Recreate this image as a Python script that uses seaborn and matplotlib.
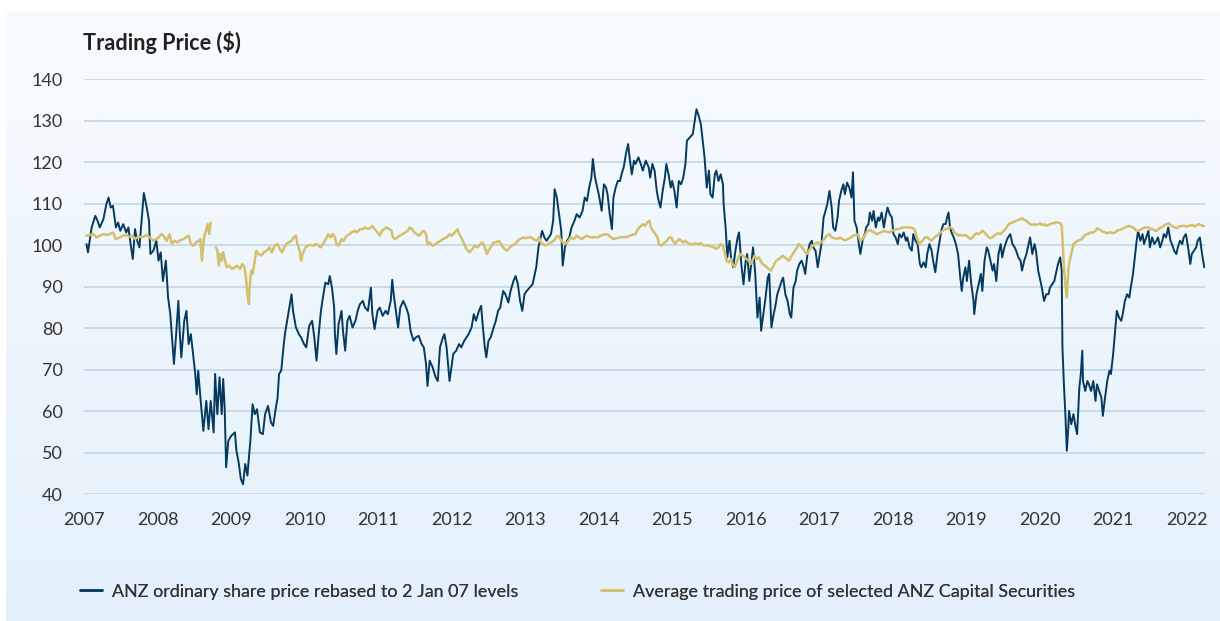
import numpy as np
import pandas as pd
import matplotlib
matplotlib.use("Agg")
import matplotlib.pyplot as plt
from matplotlib.colors import LinearSegmentedColormap
from matplotlib.lines import Line2D
import seaborn as sns

sns.set_style("white")
plt.rcParams["font.family"] = ["Lato", "DejaVu Sans"]

# ---------------- DATA ----------------
# ANZ ordinary share price, rebased to 2 Jan 07 = 100
anz_year = [
    2007.03, 2007.05, 2007.10, 2007.15, 2007.18, 2007.21, 2007.26, 2007.30, 2007.33, 2007.36,
    2007.39, 2007.43, 2007.46, 2007.49, 2007.53, 2007.57, 2007.60, 2007.63, 2007.66, 2007.69,
    2007.72, 2007.75, 2007.78, 2007.81, 2007.85, 2007.88, 2007.90, 2007.94, 2007.98,
    2008.01, 2008.04, 2008.07, 2008.11, 2008.14, 2008.17, 2008.19, 2008.22, 2008.25, 2008.28,
    2008.30, 2008.32, 2008.36, 2008.39, 2008.42, 2008.45, 2008.48, 2008.51, 2008.53, 2008.55,
    2008.58, 2008.62, 2008.66, 2008.69, 2008.72, 2008.76, 2008.78, 2008.81, 2008.84, 2008.87,
    2008.89, 2008.91, 2008.93, 2008.96,
    2009.00, 2009.05, 2009.07, 2009.10, 2009.13, 2009.16, 2009.19, 2009.22, 2009.24, 2009.26,
    2009.29, 2009.32, 2009.35, 2009.39, 2009.43, 2009.46, 2009.50, 2009.54, 2009.57, 2009.60,
    2009.63, 2009.65, 2009.68, 2009.71, 2009.73, 2009.76, 2009.79, 2009.82, 2009.84, 2009.88,
    2009.92, 2009.95, 2009.99,
    2010.02, 2010.06, 2010.10, 2010.13, 2010.16, 2010.19, 2010.22, 2010.24, 2010.28, 2010.32,
    2010.34, 2010.37, 2010.40, 2010.41, 2010.43, 2010.46, 2010.50, 2010.52, 2010.55, 2010.58,
    2010.61, 2010.65, 2010.69, 2010.72, 2010.75, 2010.79, 2010.82, 2010.86, 2010.90, 2010.92,
    2010.95, 2010.99,
    2011.02, 2011.06, 2011.10, 2011.13, 2011.17, 2011.19, 2011.21, 2011.24, 2011.27, 2011.30,
    2011.34, 2011.38, 2011.41, 2011.44, 2011.48, 2011.51, 2011.55, 2011.59, 2011.62, 2011.65,
    2011.67, 2011.70, 2011.74, 2011.78, 2011.81, 2011.84, 2011.88, 2011.90, 2011.93, 2011.97,
    2012.02, 2012.06, 2012.10, 2012.13, 2012.17, 2012.20, 2012.23, 2012.27, 2012.30, 2012.33,
    2012.37, 2012.40, 2012.42, 2012.45, 2012.47, 2012.50, 2012.53, 2012.57, 2012.60, 2012.63,
    2012.66, 2012.70, 2012.73, 2012.77, 2012.80, 2012.84, 2012.87, 2012.90, 2012.93, 2012.96,
    2012.99,
    2013.02, 2013.06, 2013.10, 2013.12, 2013.15, 2013.18, 2013.20, 2013.23, 2013.26, 2013.29,
    2013.32, 2013.35, 2013.38, 2013.40, 2013.43, 2013.46, 2013.49, 2013.51, 2013.54, 2013.57,
    2013.60, 2013.63, 2013.67, 2013.70, 2013.74, 2013.78, 2013.81, 2013.84, 2013.87, 2013.90,
    2013.92, 2013.95, 2013.98,
    2014.00, 2014.04, 2014.07, 2014.10, 2014.12, 2014.15, 2014.18, 2014.20, 2014.23, 2014.26,
    2014.29, 2014.31, 2014.34, 2014.37, 2014.40, 2014.42, 2014.45, 2014.48, 2014.50, 2014.54,
    2014.58, 2014.60, 2014.64, 2014.68, 2014.70, 2014.73, 2014.76, 2014.79, 2014.81, 2014.84,
    2014.87, 2014.90, 2014.92, 2014.95, 2014.98,
    2015.00, 2015.03, 2015.06, 2015.09, 2015.12, 2015.15, 2015.18, 2015.20, 2015.24, 2015.28,
    2015.30, 2015.33, 2015.36, 2015.39, 2015.41, 2015.44, 2015.47, 2015.50, 2015.52, 2015.55,
    2015.58, 2015.60, 2015.63, 2015.66, 2015.69, 2015.70, 2015.73, 2015.75, 2015.78, 2015.80,
    2015.83, 2015.86, 2015.89, 2015.91, 2015.94, 2015.97,
    2016.00, 2016.02, 2016.05, 2016.08, 2016.10, 2016.13, 2016.16, 2016.19, 2016.21, 2016.24,
    2016.27, 2016.30, 2016.32, 2016.35, 2016.38, 2016.40, 2016.43, 2016.46, 2016.49, 2016.51,
    2016.54, 2016.57, 2016.60, 2016.62, 2016.65, 2016.68, 2016.70, 2016.73, 2016.76, 2016.79,
    2016.81, 2016.84, 2016.87, 2016.90, 2016.92, 2016.95, 2016.98,
    2017.03, 2017.06, 2017.08, 2017.11, 2017.14, 2017.17, 2017.19, 2017.22, 2017.25, 2017.27,
    2017.30, 2017.33, 2017.35, 2017.38, 2017.41, 2017.44, 2017.46, 2017.48, 2017.51, 2017.54,
    2017.56, 2017.59, 2017.62, 2017.64, 2017.67, 2017.69, 2017.72, 2017.74, 2017.77, 2017.80,
    2017.82, 2017.85, 2017.88, 2017.91, 2017.93, 2017.96, 2017.99,
    2018.01, 2018.04, 2018.07, 2018.09, 2018.12, 2018.15, 2018.18, 2018.20, 2018.23, 2018.26,
    2018.28, 2018.31, 2018.34, 2018.37, 2018.39, 2018.42, 2018.45, 2018.47, 2018.50, 2018.53,
    2018.55, 2018.58, 2018.61, 2018.64, 2018.66, 2018.69, 2018.72, 2018.74, 2018.76, 2018.78,
    2018.81, 2018.83, 2018.86, 2018.89, 2018.92, 2018.94, 2018.96, 2018.99,
    2019.01, 2019.04, 2019.07, 2019.10, 2019.11, 2019.14, 2019.17, 2019.20, 2019.22, 2019.25,
    2019.28, 2019.30, 2019.33, 2019.36, 2019.38, 2019.41, 2019.44, 2019.47, 2019.49, 2019.52,
    2019.55, 2019.57, 2019.60, 2019.63, 2019.66, 2019.68, 2019.71, 2019.74, 2019.76, 2019.79,
    2019.82, 2019.84, 2019.87, 2019.90, 2019.93, 2019.95, 2019.98,
    2020.01, 2020.03, 2020.06, 2020.09, 2020.12, 2020.14, 2020.17, 2020.20, 2020.22, 2020.25,
    2020.28, 2020.30, 2020.31, 2020.33, 2020.35, 2020.37, 2020.39, 2020.40, 2020.43, 2020.46,
    2020.49, 2020.51, 2020.54, 2020.56, 2020.58, 2020.59, 2020.62, 2020.65, 2020.67, 2020.70,
    2020.73, 2020.76, 2020.78, 2020.81, 2020.84, 2020.86, 2020.89, 2020.92, 2020.95, 2020.97,
    2021.00, 2021.03, 2021.05, 2021.08, 2021.11, 2021.13, 2021.16, 2021.19, 2021.22, 2021.24,
    2021.27, 2021.30, 2021.32, 2021.34, 2021.37, 2021.40, 2021.42, 2021.45, 2021.48, 2021.50,
    2021.53, 2021.56, 2021.59, 2021.61, 2021.64, 2021.67, 2021.69, 2021.72, 2021.75, 2021.78,
    2021.80, 2021.83, 2021.86, 2021.88, 2021.91, 2021.94, 2021.96, 2021.99,
    2022.02, 2022.05, 2022.07, 2022.10, 2022.13, 2022.15, 2022.18, 2022.21, 2022.24,
]
anz_price = [
    100.3, 98.3, 104.3, 107.1, 105.9, 104.3, 106.3, 109.9, 111.5, 109.1,
    109.5, 104.3, 105.5, 103.5, 105.1, 103.1, 104.3, 100.3, 96.7, 103.9,
    101.1, 99.5, 105.9, 112.6, 109.1, 105.9, 97.9, 98.7, 101.1,
    96.3, 98.3, 91.4, 96.3, 87.4, 83.4, 78.6, 71.4, 78.6, 86.6,
    78.6, 73.0, 81.8, 84.2, 76.2, 78.6, 73.8, 69.0, 64.1, 69.8,
    63.3, 55.3, 62.5, 55.7, 62.5, 54.9, 69.0, 59.3, 68.2, 59.3,
    67.8, 60.9, 46.5, 52.9,
    54.1, 54.9, 50.5, 47.7, 43.7, 42.4, 47.3, 44.5, 48.9, 52.9,
    61.7, 59.3, 60.5, 54.9, 54.5, 59.3, 61.3, 57.3, 56.5, 60.1,
    63.3, 69.0, 69.8, 75.4, 78.6, 81.8, 85.0, 88.2, 84.2, 80.2,
    78.6, 77.8, 76.2,
    75.4, 80.6, 81.8, 77.8, 72.2, 78.6, 84.2, 86.6, 91.0, 90.6,
    92.6, 89.8, 85.0, 78.6, 73.8, 81.0, 84.2, 79.4, 74.6, 81.8,
    83.0, 80.2, 81.8, 84.2, 85.8, 86.6, 85.0, 84.2, 89.8, 83.4,
    79.8, 84.2,
    85.0, 83.0, 84.2, 83.4, 86.6, 91.7, 88.2, 84.2, 80.2, 85.0,
    86.6, 85.0, 83.4, 79.4, 77.0, 77.8, 78.2, 76.2, 75.4, 71.4,
    66.1, 72.2, 70.6, 68.2, 67.3, 75.4, 77.8, 78.6, 75.4, 67.3,
    73.8, 74.6, 76.2, 75.4, 77.0, 77.8, 78.6, 80.2, 83.4, 81.8,
    84.2, 85.4, 81.0, 75.4, 73.0, 77.0, 77.8, 80.2, 81.8, 84.2,
    85.0, 89.0, 88.2, 86.2, 89.0, 91.4, 92.6, 90.6, 86.6, 84.2,
    88.2,
    89.0, 89.8, 90.6, 92.2, 94.7, 99.5, 101.1, 103.5, 101.9, 101.1,
    101.9, 102.7, 105.9, 113.5, 111.5, 107.5, 103.5, 95.1, 99.5, 101.1,
    101.9, 104.3, 105.9, 107.5, 106.7, 108.3, 111.5, 110.7, 113.9, 116.3,
    120.8, 116.3, 113.9,
    112.3, 108.3, 114.7, 113.9, 112.3, 107.5, 103.9, 111.5, 113.9, 115.5,
    115.5, 117.1, 118.8, 122.0, 124.4, 121.2, 117.1, 120.4, 119.6, 121.2,
    119.2, 118.0, 120.4, 118.8, 116.3, 119.6, 118.0, 113.1, 111.1, 109.1,
    113.1, 116.3, 119.6, 117.1, 113.9,
    115.5, 113.1, 109.1, 115.5, 114.7, 116.3, 119.6, 125.2, 126.0, 126.8,
    129.2, 132.8, 131.2, 129.2, 126.0, 121.2, 113.9, 118.0, 112.3, 111.5,
    117.1, 118.0, 115.5, 117.1, 114.7, 109.9, 103.5, 97.1, 101.1, 97.1,
    94.7, 98.7, 101.9, 103.1, 95.5, 90.6,
    96.3, 97.9, 91.4, 96.3, 99.5, 93.1, 82.6, 87.4, 79.4, 83.4,
    87.4, 92.2, 93.1, 80.2, 83.4, 85.0, 88.2, 89.8, 91.4, 92.2,
    88.2, 86.6, 83.4, 82.6, 89.8, 91.4, 93.9, 95.5, 96.3, 94.7,
    93.1, 97.9, 100.3, 101.1, 99.5, 98.7, 94.7,
    100.3, 106.7, 107.9, 109.9, 113.1, 109.1, 104.3, 103.5, 106.7, 110.7,
    113.1, 114.7, 112.3, 115.1, 113.9, 111.5, 117.6, 105.9, 104.3, 100.3,
    97.9, 101.1, 102.7, 104.3, 105.1, 107.9, 105.9, 108.3, 104.3, 106.7,
    105.9, 107.9, 104.3, 107.5, 109.1, 107.5, 106.7,
    102.7, 101.9, 100.3, 102.7, 101.9, 103.1, 101.1, 101.9, 99.5, 98.7,
    102.7, 101.1, 100.3, 95.5, 94.7, 95.9, 94.7, 97.9, 100.3, 98.7,
    96.3, 93.5, 97.9, 101.1, 103.5, 105.1, 105.1, 106.7, 107.9, 104.3,
    102.7, 101.9, 100.3, 97.9, 92.2, 89.0, 92.2, 94.7,
    91.4, 96.3, 90.6, 86.6, 83.4, 88.2, 90.6, 93.1, 89.0, 96.3,
    99.5, 98.7, 96.3, 93.9, 95.5, 91.4, 97.9, 100.3, 97.1, 99.5,
    101.1, 101.9, 102.7, 100.3, 99.5, 98.7, 97.1, 96.3, 93.9, 96.3,
    97.9, 99.5, 101.9, 97.9, 100.3, 98.7, 93.9,
    91.4, 89.8, 86.6, 88.2, 88.2, 89.8, 90.6, 91.4, 93.1, 95.5,
    97.1, 93.9, 75.4, 66.5, 59.3, 50.5, 56.1, 60.1, 56.9, 59.3,
    56.1, 54.5, 65.7, 69.0, 74.6, 67.3, 64.9, 67.3, 66.5, 64.9,
    67.3, 62.5, 66.5, 64.9, 63.3, 58.9, 63.3, 67.3, 69.8, 69.0,
    73.8, 80.2, 84.2, 82.6, 81.8, 83.4, 86.6, 88.2, 87.4, 89.8,
    93.1, 97.9, 101.1, 103.5, 101.1, 102.7, 100.3, 101.9, 103.5, 99.5,
    101.9, 100.3, 101.1, 101.9, 99.5, 101.1, 102.7, 101.9, 104.3, 101.1,
    100.3, 98.7, 97.9, 99.5, 101.1, 100.3, 101.9, 102.7,
    99.5, 95.5, 97.9, 98.7, 99.5, 101.1, 101.9, 97.9, 94.7,
]

# Average trading price of selected ANZ Capital Securities (series breaks in late 2008)
caps_year_a = [
    2007.03, 2007.08, 2007.12, 2007.17, 2007.21, 2007.26, 2007.30, 2007.35, 2007.39, 2007.43,
    2007.48, 2007.52, 2007.57, 2007.61, 2007.66, 2007.69, 2007.72, 2007.76, 2007.80, 2007.85,
    2007.89, 2007.94, 2007.98,
    2008.01, 2008.05, 2008.08, 2008.12, 2008.16, 2008.19, 2008.23, 2008.27, 2008.30, 2008.35,
    2008.38, 2008.42, 2008.45, 2008.48, 2008.52, 2008.56, 2008.58, 2008.60, 2008.63, 2008.66,
    2008.68, 2008.70, 2008.72,
]
caps_price_a = [
    102.3, 102.5, 102.7, 101.9, 102.3, 102.7, 102.5, 102.7, 103.1, 101.5,
    101.9, 102.3, 102.5, 102.0, 102.3, 101.5, 101.9, 102.0, 102.0, 102.5,
    101.9, 101.1, 101.5,
    101.9, 102.7, 102.3, 101.1, 102.7, 100.4, 101.1, 100.7, 101.2, 101.5,
    101.9, 102.3, 100.3, 99.9, 100.7, 101.1, 101.5, 96.3, 101.9, 103.9,
    105.1, 102.7, 105.5,
]
caps_year_b = [
    2008.79, 2008.81, 2008.83, 2008.85, 2008.87, 2008.89, 2008.92, 2008.94, 2008.97,
    2009.01, 2009.05, 2009.08, 2009.12, 2009.15, 2009.18, 2009.20, 2009.22, 2009.24, 2009.25,
    2009.27, 2009.29, 2009.32, 2009.34, 2009.37, 2009.41, 2009.44, 2009.48, 2009.52, 2009.55,
    2009.59, 2009.63, 2009.66, 2009.69, 2009.72, 2009.75, 2009.78, 2009.82, 2009.85, 2009.88,
    2009.90, 2009.93, 2009.95, 2009.97,
    2010.01, 2010.04, 2010.08, 2010.12, 2010.15, 2010.19, 2010.22, 2010.26, 2010.30, 2010.32,
    2010.35, 2010.38, 2010.41, 2010.43, 2010.46, 2010.50, 2010.53, 2010.57, 2010.61, 2010.64,
    2010.68, 2010.71, 2010.75, 2010.79, 2010.82, 2010.86, 2010.90, 2010.92, 2010.95, 2010.99,
    2011.02, 2011.05, 2011.08, 2011.11, 2011.15, 2011.18, 2011.20, 2011.23, 2011.26, 2011.29,
    2011.33, 2011.37, 2011.40, 2011.43, 2011.46, 2011.49, 2011.52, 2011.56, 2011.59, 2011.62,
    2011.65, 2011.67, 2011.70, 2011.74, 2011.78, 2011.81, 2011.85, 2011.88, 2011.93, 2011.97,
    2012.00, 2012.04, 2012.08, 2012.10, 2012.13, 2012.17, 2012.20, 2012.24, 2012.28, 2012.31,
    2012.35, 2012.39, 2012.42, 2012.45, 2012.48, 2012.50, 2012.53, 2012.57, 2012.60, 2012.64,
    2012.67, 2012.70, 2012.72, 2012.75, 2012.79, 2012.82, 2012.86, 2012.90, 2012.93, 2012.97,
    2013.00, 2013.04, 2013.08, 2013.11, 2013.15, 2013.19, 2013.21, 2013.24, 2013.28, 2013.31,
    2013.35, 2013.39, 2013.42, 2013.45, 2013.48, 2013.51, 2013.55, 2013.59, 2013.62, 2013.66,
    2013.70, 2013.73, 2013.77, 2013.80, 2013.84, 2013.88, 2013.91, 2013.95, 2013.99,
    2014.02, 2014.06, 2014.10, 2014.13, 2014.17, 2014.20, 2014.24, 2014.28, 2014.31, 2014.35,
    2014.39, 2014.42, 2014.46, 2014.50, 2014.52, 2014.55, 2014.58, 2014.60, 2014.63, 2014.66,
    2014.69, 2014.71, 2014.74, 2014.77, 2014.80, 2014.82, 2014.85, 2014.88, 2014.90, 2014.93,
    2014.96, 2014.99,
    2015.01, 2015.04, 2015.07, 2015.10, 2015.12, 2015.15, 2015.18, 2015.20, 2015.24, 2015.28,
    2015.31, 2015.35, 2015.39, 2015.42, 2015.46, 2015.50, 2015.53, 2015.57, 2015.60, 2015.63,
    2015.66, 2015.69, 2015.70, 2015.72, 2015.74, 2015.77, 2015.80, 2015.82, 2015.85, 2015.88,
    2015.90, 2015.93, 2015.96, 2015.99,
    2016.01, 2016.04, 2016.07, 2016.10, 2016.12, 2016.15, 2016.18, 2016.20, 2016.23, 2016.26,
    2016.29, 2016.31, 2016.34, 2016.37, 2016.40, 2016.42, 2016.45, 2016.48, 2016.50, 2016.53,
    2016.56, 2016.59, 2016.61, 2016.64, 2016.67, 2016.70, 2016.72, 2016.75, 2016.78, 2016.80,
    2016.83, 2016.86, 2016.89, 2016.91, 2016.94, 2016.97, 2017.00,
    2017.07, 2017.10, 2017.14, 2017.17, 2017.21, 2017.25, 2017.28, 2017.32, 2017.35, 2017.39,
    2017.43, 2017.46, 2017.50, 2017.53, 2017.54, 2017.56, 2017.59, 2017.62, 2017.64, 2017.67,
    2017.70, 2017.72, 2017.75, 2017.78, 2017.81, 2017.84, 2017.88, 2017.91, 2017.95, 2017.99,
    2018.02, 2018.06, 2018.09, 2018.13, 2018.17, 2018.20, 2018.24, 2018.28, 2018.30, 2018.33,
    2018.36, 2018.38, 2018.41, 2018.44, 2018.46, 2018.49, 2018.52, 2018.55, 2018.57, 2018.60,
    2018.63, 2018.65, 2018.68, 2018.71, 2018.74, 2018.76, 2018.79, 2018.82, 2018.84, 2018.87,
    2018.90, 2018.92, 2018.95, 2018.98,
    2019.01, 2019.03, 2019.06, 2019.09, 2019.11, 2019.14, 2019.17, 2019.20, 2019.22, 2019.25,
    2019.28, 2019.30, 2019.33, 2019.36, 2019.38, 2019.41, 2019.44, 2019.47, 2019.49, 2019.52,
    2019.55, 2019.57, 2019.60, 2019.63, 2019.66, 2019.68, 2019.71, 2019.74, 2019.76, 2019.79,
    2019.82, 2019.84, 2019.87, 2019.90, 2019.93, 2019.95, 2019.98,
    2020.01, 2020.03, 2020.06, 2020.09, 2020.12, 2020.14, 2020.17, 2020.20, 2020.22, 2020.25,
    2020.28, 2020.30, 2020.31, 2020.33, 2020.35, 2020.37, 2020.39, 2020.40, 2020.42, 2020.44,
    2020.46, 2020.49, 2020.51, 2020.54, 2020.57, 2020.59, 2020.62, 2020.65, 2020.67, 2020.70,
    2020.73, 2020.76, 2020.78, 2020.81, 2020.84, 2020.86, 2020.89, 2020.92, 2020.95, 2020.97,
    2021.00, 2021.03, 2021.05, 2021.08, 2021.11, 2021.13, 2021.16, 2021.19, 2021.22, 2021.24,
    2021.27, 2021.30, 2021.32, 2021.35, 2021.38, 2021.41, 2021.43, 2021.46, 2021.49, 2021.51,
    2021.54, 2021.57, 2021.59, 2021.62, 2021.65, 2021.68, 2021.70, 2021.73, 2021.76, 2021.78,
    2021.81, 2021.84, 2021.87, 2021.89, 2021.92, 2021.95, 2021.97, 2022.00, 2022.03, 2022.06,
    2022.08, 2022.11, 2022.14, 2022.16, 2022.19, 2022.22, 2022.24,
]
caps_price_b = [
    99.5, 98.7, 95.1, 97.9, 96.3, 98.3, 95.9, 94.7, 95.1,
    94.3, 94.7, 95.1, 94.3, 95.5, 94.7, 92.2, 88.2, 85.8, 89.8,
    93.9, 93.1, 96.3, 98.7, 97.9, 97.5, 98.3, 98.7, 99.5, 98.3,
    99.9, 100.3, 99.1, 98.3, 99.5, 100.3, 100.7, 101.1, 101.9, 102.3,
    100.3, 98.7, 96.3, 97.9,
    99.5, 99.9, 100.1, 99.9, 100.3, 99.9, 99.5, 100.7, 101.9, 102.7,
    101.9, 102.7, 101.9, 100.3, 99.9, 101.5, 101.1, 102.3, 102.7, 103.1,
    103.5, 103.1, 103.9, 103.9, 104.3, 103.9, 104.3, 104.7, 103.9, 103.1,
    102.3, 103.5, 103.9, 104.3, 103.9, 103.5, 101.9, 101.5, 101.9, 102.3,
    102.7, 103.1, 103.5, 104.3, 103.9, 103.1, 102.7, 102.3, 103.1, 103.5,
    102.7, 100.3, 100.7, 99.9, 100.3, 100.7, 101.1, 101.5, 101.9, 102.7,
    102.3, 103.1, 103.9, 102.7, 101.9, 100.3, 99.1, 98.3, 99.1, 99.9,
    99.5, 100.3, 100.7, 99.5, 97.9, 98.7, 99.5, 100.7, 100.7, 101.1,
    100.3, 99.5, 99.1, 98.7, 99.5, 99.9, 100.3, 101.1, 101.5, 101.9,
    101.7, 101.9, 101.9, 101.5, 101.1, 101.9, 100.7, 100.3, 99.9, 100.3,
    100.7, 101.1, 101.9, 102.3, 101.5, 100.7, 100.3, 101.1, 101.9, 101.5,
    102.3, 101.9, 101.5, 101.9, 102.3, 102.0, 101.9, 102.0, 101.9,
    102.3, 102.5, 102.7, 102.5, 101.9, 101.5, 101.7, 101.9, 101.9, 102.0,
    102.0, 102.3, 102.5, 102.7, 103.5, 104.3, 104.7, 105.1, 104.7, 105.5,
    105.9, 104.3, 103.5, 102.7, 101.9, 100.3, 99.9, 100.3, 100.7, 101.1,
    101.9, 101.9,
    101.1, 100.3, 101.1, 101.5, 101.1, 100.7, 101.1, 100.7, 100.3, 100.3,
    100.4, 100.3, 100.5, 100.1, 99.9, 99.9, 99.7, 99.5, 99.1, 99.5,
    100.3, 99.9, 99.1, 97.9, 96.3, 95.9, 96.7, 95.5, 94.7, 95.9,
    97.1, 97.9, 97.5, 97.1,
    96.7, 96.3, 95.5, 96.7, 97.5, 96.7, 97.1, 96.3, 95.5, 95.1,
    94.7, 94.3, 93.9, 94.7, 95.9, 96.3, 96.7, 97.1, 97.5, 97.1,
    96.7, 96.3, 97.1, 97.9, 98.7, 99.5, 100.3, 99.9, 99.1, 98.7,
    97.9, 98.7, 99.5, 99.9, 100.3, 100.7, 100.3,
    101.5, 102.3, 102.7, 101.9, 101.7, 101.5, 101.9, 101.5, 101.2, 101.5,
    101.9, 102.3, 102.5, 102.7, 101.9, 101.1, 101.5, 102.3, 103.1, 103.5,
    103.7, 103.3, 103.1, 102.7, 102.9, 103.1, 103.5, 103.3, 103.1, 103.5,
    103.7, 103.9, 103.9, 104.3, 104.3, 104.3, 104.3, 104.1, 103.7, 101.9,
    100.3, 100.7, 101.2, 101.9, 102.0, 101.7, 101.1, 101.5, 101.9, 102.3,
    102.7, 103.1, 103.5, 103.9, 103.9, 104.3, 104.3, 103.9, 103.1, 102.7,
    102.3, 102.5, 102.3, 102.5,
    102.3, 101.9, 101.5, 101.9, 102.5, 102.9, 102.7, 103.1, 103.5, 103.1,
    102.5, 102.0, 101.7, 102.0, 102.3, 102.7, 102.9, 102.7, 103.1, 103.7,
    104.3, 104.9, 105.3, 105.5, 105.7, 105.9, 106.1, 106.3, 106.5, 106.1,
    105.9, 105.5, 105.1, 104.9, 105.1, 104.9, 105.1,
    105.3, 104.9, 105.1, 104.7, 104.9, 105.1, 105.3, 105.3, 105.5, 105.5,
    105.3, 104.7, 101.9, 94.7, 90.6, 87.4, 93.9, 95.5, 97.1, 98.7,
    100.3, 100.7, 101.1, 101.2, 101.5, 101.9, 102.5, 102.7, 102.9, 103.1,
    103.1, 103.5, 104.1, 103.9, 103.5, 103.3, 103.1, 102.9, 103.1, 103.1,
    102.9, 103.1, 103.5, 103.7, 103.8, 104.0, 104.3, 104.5, 104.7, 104.5,
    104.3, 103.9, 103.5, 103.5, 103.9, 104.1, 104.3, 104.3, 104.3, 103.9,
    103.9, 103.5, 103.5, 103.9, 104.3, 104.5, 104.9, 105.1, 105.3, 104.9,
    104.5, 104.3, 104.1, 104.5, 104.6, 104.7, 104.7, 104.5, 104.7, 104.8,
    104.9, 104.5, 104.9, 105.1, 104.9, 104.7, 104.6,
]

year_ticks = list(range(2007, 2023))
price_ticks = list(range(40, 141, 10))
anz_label = "ANZ ordinary share price rebased to 2 Jan 07 levels"
caps_label = "Average trading price of selected ANZ Capital Securities"

assert len(anz_year) == len(anz_price), (len(anz_year), len(anz_price))
assert len(caps_year_a) == len(caps_price_a), (len(caps_year_a), len(caps_price_a))
assert len(caps_year_b) == len(caps_price_b), (len(caps_year_b), len(caps_price_b))

anz = pd.DataFrame({"year": anz_year, "price": anz_price})
caps = pd.concat([
    pd.DataFrame({"year": caps_year_a, "price": caps_price_a, "seg": 0}),
    pd.DataFrame({"year": caps_year_b, "price": caps_price_b, "seg": 1}),
], ignore_index=True)

NAVY = "#053A5E"
GOLD = "#D3BF6C"
GRID = "#C8DAE9"
TEXT = "#231F20"

# ---------------- FIGURE ----------------
W, H = 1220, 621
fig = plt.figure(figsize=(W / 100, H / 100), dpi=100, facecolor="white")

# soft blue gradient panel behind everything
bg = fig.add_axes([6 / W, 0, 1 - 6 / W, (H - 12) / H], zorder=0)
grad = LinearSegmentedColormap.from_list("panel", ["#E3F0FB", "#F7FBFE"])
bg.imshow(np.linspace(0, 1, 256).reshape(-1, 1)[::-1], aspect="auto", cmap=grad,
          extent=[0, 1, 0, 1])
bg.axis("off")

ax = fig.add_axes([84.3 / W, (H - 494.3) / H, (1205 - 84.3) / W, (494.3 - 79.3) / H], zorder=1)
ax.patch.set_alpha(0)

sns.lineplot(data=anz, x="year", y="price", color=NAVY, lw=1.4, estimator=None,
             ax=ax, legend=False)
sns.lineplot(data=caps, x="year", y="price", units="seg", color=GOLD, lw=1.8,
             estimator=None, ax=ax, legend=False)

ax.set_xlim(2007, 2022.25)
ax.set_ylim(40, 140)
ax.set_xticks(year_ticks)
ax.set_yticks(price_ticks)
ax.set_xlabel("")
ax.set_ylabel("")
for s in ax.spines.values():
    s.set_visible(False)
ax.yaxis.grid(True, color=GRID, lw=1.4, zorder=0)
ax.xaxis.grid(False)
ax.set_axisbelow(True)
ax.tick_params(axis="y", length=0, pad=15.5, labelsize=13, labelcolor="#333333")
ax.tick_params(axis="x", length=4.5, width=1, color=GRID, pad=8, labelsize=13,
               labelcolor="#333333")

fig.text(83 / W, 1 - 43 / H, "Trading Price ($)", fontsize=15.6, fontweight="bold",
         color=TEXT, va="center", ha="left")

# legend, laid out as two separate entries on the bottom band
leg_y = 1 - 591.7 / H
h1 = Line2D([], [], color=NAVY, lw=1.8)
h2 = Line2D([], [], color=GOLD, lw=1.8)
for handle, label, x0 in [(h1, anz_label, 80), (h2, caps_label, 601)]:
    leg = fig.legend([handle], [label], loc="center left", bbox_to_anchor=(x0 / W, leg_y),
                     frameon=False, fontsize=12.9, handlelength=1.25, handletextpad=0.55,
                     borderpad=0, borderaxespad=0, labelcolor="#333333")
    fig.add_artist(leg)

fig.savefig("out.png", dpi=100, facecolor="white")
